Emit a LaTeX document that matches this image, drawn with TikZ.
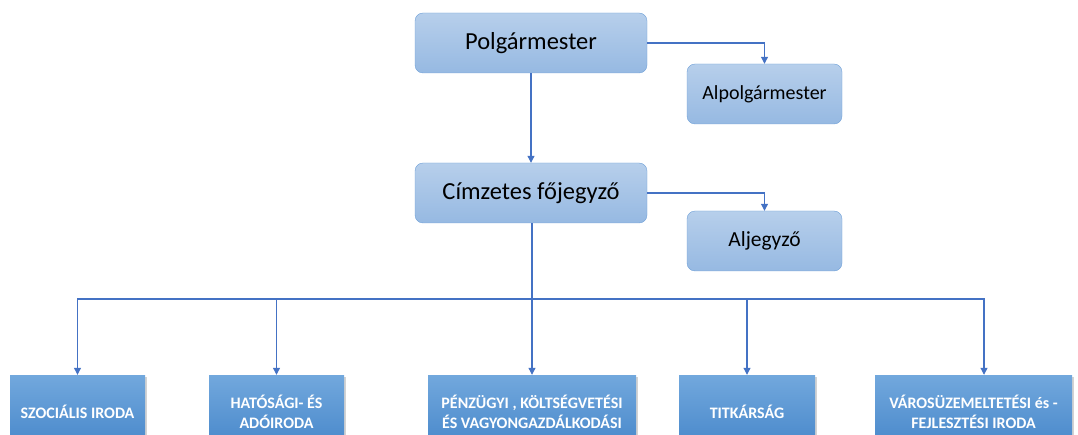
\documentclass[tikz,border=0pt]{standalone}
\usepackage{fontspec}
\setmainfont{Carlito}
\usepackage{tikz}
\usetikzlibrary{arrows.meta,shadows}

\definecolor{vonal}{HTML}{4472C4}
\definecolor{keret}{HTML}{6FA0D8}
\definecolor{felsovilagos}{HTML}{B7CFEB}
\definecolor{felsosotet}{HTML}{96B9E2}
\definecolor{irodafelso}{HTML}{72A8DD}
\definecolor{irodaalso}{HTML}{4787CA}

\begin{document}
\begin{tikzpicture}[x=1pt, y=1pt,
        vezeto/.style={draw=keret, rounded corners=8pt, top color=felsovilagos, bottom color=felsosotet,
            minimum width=232pt, minimum height=60pt, font=\fontsize{24.5}{28}\selectfont},
        helyettes/.style={vezeto, minimum width=155pt, font=\fontsize{20}{24}\selectfont},
        iroda/.style={top color=irodafelso, bottom color=irodaalso, minimum height=74pt, text=white,
            align=center, font=\bfseries\fontsize{16}{20}\selectfont,
            drop shadow={shadow xshift=2pt, shadow yshift=-2pt, opacity=0.35}},
        nyil/.style={draw=vonal, line width=1.1pt, -{Triangle[width=7pt,length=7pt]}}]
                \useasboundingbox (0,0) rectangle (1078,434);

                \node[vezeto] (polg) at (531,391) {Polgármester};
                \node[helyettes] (alpolg) at (764.5,340) {Alpolgármester};

                \node[vezeto] (jegyzo) at (531,241) {Címzetes főjegyző};
                \node[helyettes, font=\fontsize{21.5}{24}\selectfont] (aljegyzo) at (764.5,193) {Aljegyző};

                \node[iroda, minimum width=135pt] (szoc) at (77.5,22) {SZOCIÁLIS IRODA};
                \node[iroda, minimum width=135pt] (hat) at (276.5,22) {HATÓSÁGI- ÉS\\ADÓIRODA};
                \node[iroda, minimum width=208pt] (penz) at (532,22) {PÉNZÜGYI , KÖLTSÉGVETÉSI\\ÉS VAGYONGAZDÁLKODÁSI};
                \node[iroda, minimum width=136pt] (titk) at (747,22) {TITKÁRSÁG};
                \node[iroda, minimum width=197pt] (varos) at (973.5,22) {VÁROSÜZEMELTETÉSI és -\\FEJLESZTÉSI IRODA};

                \coordinate (elosztas) at (532,135);

                \draw[nyil] (polg.east) -| (alpolg.north);
                \draw[nyil] (polg.south) -- (jegyzo.north);
                \draw[nyil] (jegyzo.east) -| (aljegyzo.north);

                \foreach \cel in {szoc, hat, penz, titk}
                    \draw[nyil] (jegyzo.south -| elosztas) -- (elosztas) -| (\cel.north);
                \draw[nyil] (jegyzo.south -| elosztas) -- (elosztas) -| ([xshift=10.5pt]varos.north);
            \end{tikzpicture}
\end{document}
